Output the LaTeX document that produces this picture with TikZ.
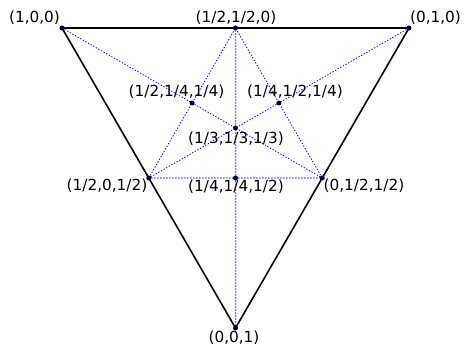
\documentclass[tikz,border=0pt]{standalone}
\usepackage{fontspec}
\setmainfont{DejaVu Sans}
\usetikzlibrary{calc}
\definecolor{lightdot}{RGB}{110,110,255}
\definecolor{ptcol}{RGB}{0,0,40}
\begin{document}
\begin{tikzpicture}[x=1pt,y=1pt,
  edge/.style={black,line width=1.6pt},
  aux/.style={blue,line width=0.8pt,dash pattern=on 1.3pt off 1.7pt},
  auxb/.style={draw=lightdot,line width=2pt,line cap=round,dash pattern=on 0pt off 3pt},
  pt/.style={circle,fill=ptcol,inner sep=0pt,minimum size=5pt},
  lab/.style={inner sep=0pt,font=\fontsize{15.3}{17}\selectfont}]
\useasboundingbox (0,0) rectangle (467,349);
\coordinate (A) at (62,321);
\coordinate (B) at (409,321);
\coordinate (C) at (235.5,21);
\coordinate (AB) at ($ (A)!0.5!(B) $);
\coordinate (AC) at ($ (A)!0.5!(C) $);
\coordinate (BC) at ($ (B)!0.5!(C) $);
\coordinate (G) at ($ (AB)!1/3!(C) $);
\coordinate (P) at ($ (A)!0.5!(BC) $);
\coordinate (Q) at ($ (B)!0.5!(AC) $);
\coordinate (R) at ($ (AC)!0.5!(BC) $);
% auxiliary dotted lines
\draw[aux] (AC) -- (AB) -- (BC);
\draw[aux] (A) -- (BC);
\draw[aux] (B) -- (AC);
\draw[auxb] (AB) -- (C);
\draw[auxb] (AC) -- (BC);
% triangle
\draw[edge] (A) -- (B) -- (C) -- cycle;
% points
\foreach \p in {A,B,C,AB,AC,BC,G,P,Q,R} \node[pt] (n\p) at (\p) {};
% labels
\node[lab] (lA) at (34.5,331) {(1,0,0)};
\node[lab] (lB) at (435.5,331) {(0,1,0)};
\node[lab] (lAB) at (236,331) {(1/2,1/2,0)};
\node[lab] (lP) at (176.5,257) {(1/2,1/4,1/4)};
\node[lab] (lQ) at (295,257) {(1/4,1/2,1/4)};
\node[lab] (lG) at (236,210) {(1/3,1/3,1/3)};
\node[lab] (lAC) at (107,163) {(1/2,0,1/2)};
\node[lab] (lR) at (236,162) {(1/4,1/4,1/2)};
\node[lab] (lBC) at (364,163) {(0,1/2,1/2)};
\node[lab] (lC) at (234,11) {(0,0,1)};
\end{tikzpicture}
\end{document}
